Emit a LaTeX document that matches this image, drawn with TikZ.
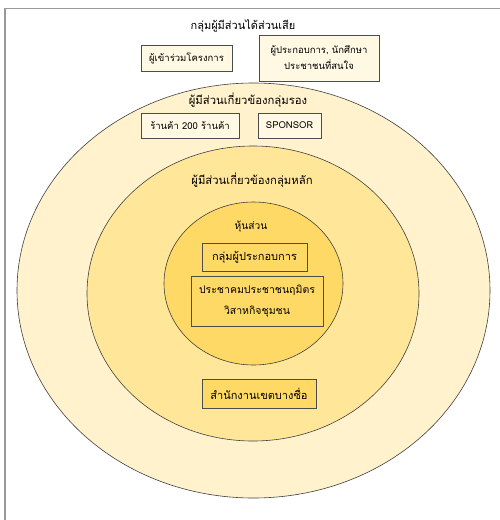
\documentclass[tikz,border=0pt]{standalone}
\usepackage{fontspec}
\setmainfont[Script=Thai]{Loma}
\definecolor{cream}{HTML}{FFF2CC}
\definecolor{midc}{HTML}{FFE699}
\definecolor{innc}{HTML}{FFD966}
\definecolor{boxc}{HTML}{FFF8E3}
\begin{document}
\begin{tikzpicture}[x=1pt,y=-1pt,
  ring/.style={draw=black!75,line width=0.6pt},
  lbl/.style={font=\fontsize{11.3}{12}\selectfont,inner sep=0pt},
  tbox/.style={draw=black!70,line width=0.6pt,font=\fontsize{9.5}{16}\selectfont,inner sep=0pt,align=center},
  bbox/.style={tbox,font=\fontsize{11}{20}\selectfont}]
\useasboundingbox (0,0) rectangle (500,520);
\fill[white] (0,0) rectangle (500,520);
\draw[draw=black!40,line width=1.5pt] (5,520) -- (5,8.5) -- (500,8.5);
% rings
\draw[ring,fill=cream] (253.5,290.5) ellipse [x radius=236.5,y radius=207.5];
\draw[ring,fill=midc] (253,293.5) ellipse [x radius=166,y radius=147.5];
\draw[ring,fill=innc] (253.5,283.5) ellipse [x radius=89.5,y radius=81.5];
% titles
\node[lbl,font=\fontsize{11}{12}\selectfont] (t1) at (243,26) {กลุ่มผู้มีส่วนได้ส่วนเสีย};
\node[lbl] (t2) at (248,100) {ผู้มีส่วนเกี่ยวข้องกลุ่มรอง};
\node[lbl] (t3) at (252,180) {ผู้มีส่วนเกี่ยวข้องกลุ่มหลัก};
\node[lbl,font=\fontsize{10.2}{12}\selectfont] (t4) at (251,227) {หุ้นส่วน};
% boxes
\node[tbox,fill=boxc,minimum width=91,minimum height=26] (b1) at (186.5,58) {ผู้เข้าร่วมโครงการ};
\node[tbox,fill=boxc,minimum width=120,minimum height=46] (b2) at (319,58) {ผู้ประกอบการ, นักศึกษา\\ประชาชนที่สนใจ};
\node[tbox,fill=boxc,minimum width=98,minimum height=25] (b3) at (190,125.5) {ร้านค้า 200 ร้านค้า};
\node[tbox,fill=boxc,minimum width=63,minimum height=25] (b4) at (289.5,125.5) {SPONSOR};
\node[bbox,fill=innc,minimum width=105,minimum height=28] (b5) at (254.5,257) {กลุ่มผู้ประกอบการ};
\node[bbox,fill=innc,minimum width=132,minimum height=50,font=\fontsize{10.5}{21}\selectfont] (b6) at (257,301) {ประชาคมประชาชนฤมิตร\\วิสาหกิจชุมชน};
\node[bbox,fill=innc,minimum width=114,minimum height=29] (b7) at (259,393.5) {สำนักงานเขตบางซื่อ};
\end{tikzpicture}
\end{document}
